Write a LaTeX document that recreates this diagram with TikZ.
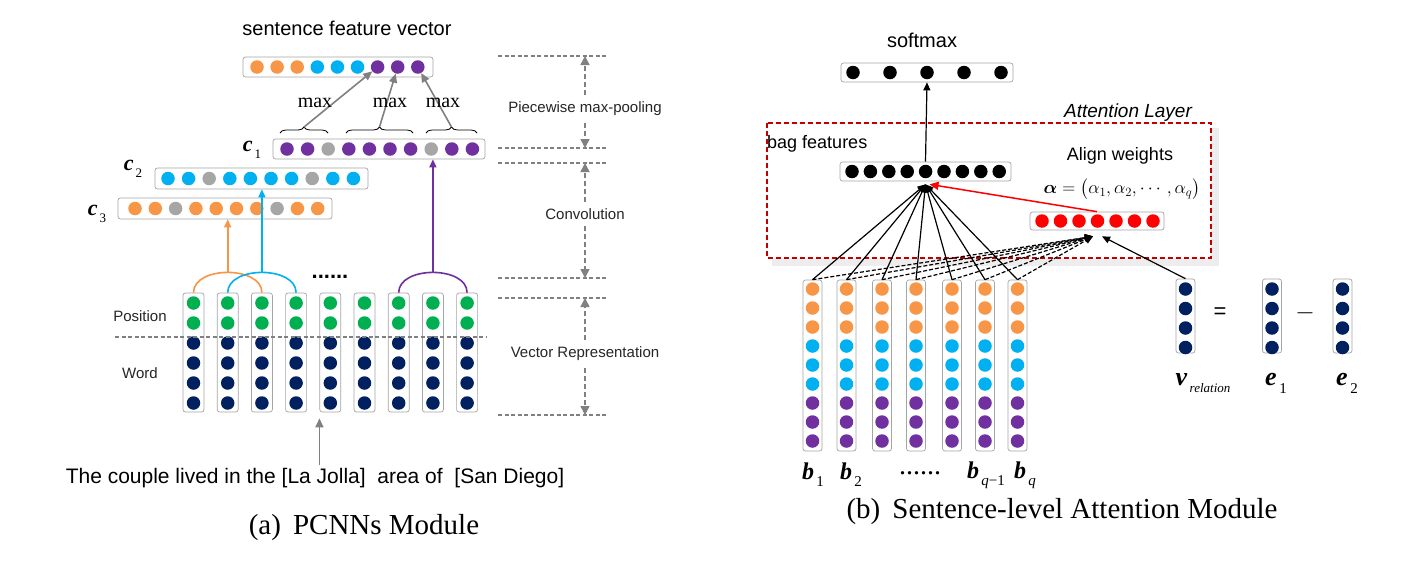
\documentclass[tikz,border=0pt]{standalone}
\usepackage{fix-cm}
\usepackage{amsmath}
\usepackage{bm}
\usepackage{fontspec}
\setmainfont{Liberation Sans}
\newfontfamily\tms{Liberation Serif}
\usetikzlibrary{arrows.meta,decorations.pathreplacing}

\definecolor{orng}{RGB}{247,150,70}
\definecolor{cyn}{RGB}{0,176,240}
\definecolor{prpl}{RGB}{112,48,160}
\definecolor{gry}{RGB}{166,166,166}
\definecolor{grn}{RGB}{0,176,80}
\definecolor{navy}{RGB}{0,32,96}
\definecolor{boxline}{RGB}{165,165,165}
\definecolor{darr}{RGB}{128,128,128}
\definecolor{attred}{RGB}{192,0,0}

\newcommand{\dotsz}{13.5pt}
\newcommand{\vlab}[3]{{\tms\bfseries\itshape #1}\hspace{0.1em}\raisebox{-0.3em}{\tms\fontsize{#3}{#3}\selectfont #2}}

\tikzset{
  vecbox/.style={draw=boxline, fill=white, rounded corners=2.5pt, line width=0.7pt, inner sep=0pt},
  dot/.style={circle, inner sep=0pt, minimum size=\dotsz},
  lbl/.style={font=\fontsize{20}{24}\selectfont},
  lblm/.style={font=\fontsize{18}{22}\selectfont, inner sep=1pt},
  side/.style={font=\fontsize{15}{18}\selectfont, text=black!85},
  maxlab/.style={font=\tms\fontsize{20}{24}\selectfont, inner sep=1pt},
  captxt/.style={font=\tms\fontsize{29}{34}\selectfont},
  clab/.style={font=\fontsize{22}{24}\selectfont},
  blab/.style={font=\fontsize{24}{26}\selectfont},
  brc/.style={decorate, decoration={brace, amplitude=6pt}, line width=0.8pt},
  garrow/.style={draw=darr, line width=1.6pt, -{Triangle[length=9pt, width=8pt]}},
  carrow/.style={line width=1.6pt, -{Triangle[length=8pt, width=7pt]}},
  arch/.style={line width=1.6pt},
  sepline/.style={draw=darr, line width=1.2pt, dash pattern=on 4pt off 2.5pt},
  dimarrow/.style={draw=darr, line width=1.5pt, dash pattern=on 5pt off 3pt, -{Triangle[length=9pt, width=9pt]}, shorten <=3pt},
  karrow/.style={line width=1.2pt, -{Triangle[length=8pt, width=7pt]}},
  rarrow/.style={draw=red, line width=1.5pt, -{Triangle[length=9pt, width=8pt]}},
}

\begin{document}
\begin{tikzpicture}[x=1pt,y=-1pt]
\useasboundingbox (0,0) rectangle (1424,560);
\fill[white] (0,0) rectangle (1424,560);

%% (a) PCNNs module
\node[lbl] (sfvlab) at (347,28) {sentence feature vector};
\node[vecbox, minimum width=190pt, minimum height=20pt] (sfv) at (338,67) {};
\foreach \col [count=\i from 0] in {orng,orng,orng,cyn,cyn,cyn,prpl,prpl,prpl}
  \node[dot, fill=\col] (sfv-\i) at (257+20.1*\i,67) {};

% convolution outputs
\node[vecbox, minimum width=212pt, minimum height=20pt] (c1) at (379,149) {};
\foreach \col [count=\i from 0] in {prpl,prpl,gry,prpl,prpl,prpl,prpl,gry,prpl,prpl}
  \node[dot, fill=\col] (c1-\i) at (287+20.6*\i,149) {};
\node[vecbox, minimum width=213pt, minimum height=21pt] (c2) at (261.5,178.5) {};
\foreach \col [count=\i from 0] in {cyn,cyn,gry,cyn,cyn,cyn,cyn,gry,cyn,cyn}
  \node[dot, fill=\col] (c2-\i) at (168+20.6*\i,178.5) {};
\node[vecbox, minimum width=214pt, minimum height=21pt] (c3) at (225,208.5) {};
\foreach \col [count=\i from 0] in {orng,orng,gry,orng,orng,orng,orng,gry,orng,orng}
  \node[dot, fill=\col] (c3-\i) at (135+20.3*\i,208.5) {};
\node[clab] at (252,150) {\vlab{c}{1}{13}};
\node[clab] at (133,169) {\vlab{c}{2}{13}};
\node[clab] at (97,214) {\vlab{c}{3}{13}};

% piecewise pooling
\draw[brc] (280,133) -- (328,133);
\draw[brc] (346,133) -- (413,133);
\draw[brc] (426,133) -- (477,133);
\coordinate (br1) at (304,127);
\coordinate (br2) at (379.5,127);
\coordinate (br3) at (451.5,127);
\draw[garrow] (br1) -- (sfv-6);
\draw[garrow] (br2) -- (sfv-7);
\draw[garrow] (br3) -- (sfv-8);
\node[maxlab] at (315,103) {max};
\node[maxlab] at (390,103) {max};
\node[maxlab] at (443,103) {max};

% word + position vectors
\foreach \i in {0,...,8} {
  \node[vecbox, minimum width=21pt, minimum height=119pt] (w-\i) at (193.5+34.2*\i,352.5) {};
  \foreach \col [count=\j from 0] in {grn,grn,navy,navy,navy,navy}
    \node[dot, fill=\col] (w-\i-\j) at (193.5+34.2*\i,303+20*\j) {};
}
\coordinate (pw-l) at (115,337);
\coordinate (pw-r) at (487,337);
\draw[sepline] (pw-l) -- (pw-r);
\node[side] at (140,316) {Position};
\node[side] at (140,373) {Word};

% filters
\draw[orng, arch] (w-0.north) .. controls +(0,-27) and +(0,-27) .. (w-2.north);
\draw[cyn, arch] (w-1.north) .. controls +(0,-27) and +(0,-27) .. (w-3.north);
\draw[prpl, arch] (w-6.north) .. controls +(0,-27) and +(0,-27) .. (w-8.north);
\coordinate (pk-o) at (227.7,273);
\coordinate (pk-b) at (261.9,273);
\coordinate (pk-p) at (432.9,273);
\draw[orng, carrow] (pk-o) -- (pk-o |- c3.south);
\draw[cyn, carrow] (pk-b) -- (pk-b |- c2.south);
\draw[prpl, carrow] (pk-p) -- (pk-p |- c1.south);
\node[font=\bfseries\fontsize{22}{22}\selectfont] at (330,277) {......};

\node[lbl, font=\fontsize{21}{24}\selectfont] (sent) at (315,478) {The couple lived in the [La Jolla]\ \ area of\ \ [San Diego]};
\draw[garrow] (sent.north -| w-4.west) -- ([yshift=-6pt]w-4.south west);
\node[captxt] at (364,528) {(a)\ \,PCNNs Module};

% layer markers
\foreach \y [count=\k] in {56,148,163,278,298,415} {
  \coordinate (ml\k) at (498,\y);
  \coordinate (mr\k) at (607,\y);
  \draw[sepline] (ml\k) -- (mr\k);
}
\node[side] (pool) at (585,109) {Piecewise max-pooling};
\node[side] (conv) at (585,214) {Convolution};
\node[side] (vrep) at (585,354) {Vector Representation};
\draw[dimarrow] (pool.north) -- (pool.north |- ml1);
\draw[dimarrow] (pool.south) -- (pool.south |- ml2);
\draw[dimarrow] (conv.north) -- (conv.north |- ml3);
\draw[dimarrow] (conv.south) -- (conv.south |- ml4);
\draw[dimarrow] (vrep.north) -- (vrep.north |- ml5);
\draw[dimarrow] (vrep.south) -- (vrep.south |- ml6);

%% (b) sentence-level attention
\node[lbl] (smaxlab) at (922,40) {softmax};
\node[vecbox, minimum width=172pt, minimum height=19pt] (smax) at (927,72.5) {};
\foreach \i in {0,...,4}
  \node[dot, fill=black] (smax-\i) at (853+37*\i,72.5) {};

% attention layer
\fill[black!7] (772,128) rectangle (1219,266);
\filldraw[fill=white, draw=attred, line width=1.5pt, dash pattern=on 5pt off 3pt] (767,123) rectangle (1211,258);
\node[font=\itshape\fontsize{19}{22}\selectfont] at (1128,113) {Attention Layer};
\node[lblm, anchor=west] at (766,144) {bag features};
\node[vecbox, minimum width=171pt, minimum height=19pt] (bag) at (925.5,171.5) {};
\foreach \i in {0,...,8}
  \node[dot, fill=black] (bag-\i) at (852+18.4*\i,171.5) {};
\draw[karrow] (bag.north) -- (smax.south);
\node[lblm] at (1120,156) {Align weights};
\node[lblm] at (1122,189) {$\bm{\alpha}=\big(\alpha_1,\alpha_2,\cdots,\alpha_q\big)$};
\node[vecbox, minimum width=134pt, minimum height=18pt] (al) at (1097,221) {};
\foreach \i in {0,...,6}
  \node[dot, fill=red] (al-\i) at (1042+18.5*\i,221) {};

% sentence vectors
\foreach \x [count=\i] in {812.5,846.5,882,916,952,985,1017.5} {
  \node[vecbox, minimum width=19pt, minimum height=171pt] (b-\i) at (\x,365.5) {};
  \foreach \col [count=\j from 0] in {orng,orng,orng,cyn,cyn,cyn,prpl,prpl,prpl}
    \node[dot, fill=\col] (b-\i-\j) at (\x,289+19*\j) {};
}
\foreach \nm/\x in {v/1185.5,e1/1272,e2/1342.5} {
  \node[vecbox, minimum width=19pt, minimum height=74pt] (\nm) at (\x,316) {};
  \foreach \j in {0,...,3}
    \node[dot, fill=navy] (\nm-\j) at (\x,289+19.5*\j) {};
}
\node[font=\fontsize{22}{22}\selectfont] at (1220,313) {=};
\node[font=\fontsize{25}{25}\selectfont] at (1305,313) {$-$};

% connections
\coordinate (bagin) at ([yshift=-3pt]bag.south);
\coordinate (alin) at ([xshift=-4pt,yshift=-6pt]al.south);
\coordinate (vin) at ([xshift=5pt,yshift=-6pt]al.south);
\foreach \i in {1,...,7} {
  \draw[karrow] (b-\i.north) -- (bagin);
  \draw[karrow, dash pattern=on 4pt off 2pt] (b-\i.north) -- (alin);
}
\draw[karrow] (v.north) -- (vin);
\draw[rarrow] (al.north) -- ([xshift=4pt]bagin);

\node[blab] at (813,475) {\vlab{b}{1}{15}};
\node[blab] at (851,475) {\vlab{b}{2}{15}};
\node[font=\tms\fontsize{28}{28}\selectfont] at (920,473) {......};
\node[blab] at (986,475) {\vlab{b}{{\itshape q}−1}{15}};
\node[blab] at (1025,475) {\vlab{b}{\itshape q}{15}};
\node[blab, font=\fontsize{26}{28}\selectfont] at (1203,383) {\vlab{v}{\itshape relation}{13}};
\node[blab, font=\fontsize{26}{28}\selectfont] at (1276,383) {\vlab{e}{1}{15}};
\node[blab, font=\fontsize{26}{28}\selectfont] at (1347,383) {\vlab{e}{2}{15}};
\node[captxt] at (1062,512) {(b)\ \,Sentence-level Attention Module};
\end{tikzpicture}
\end{document}
